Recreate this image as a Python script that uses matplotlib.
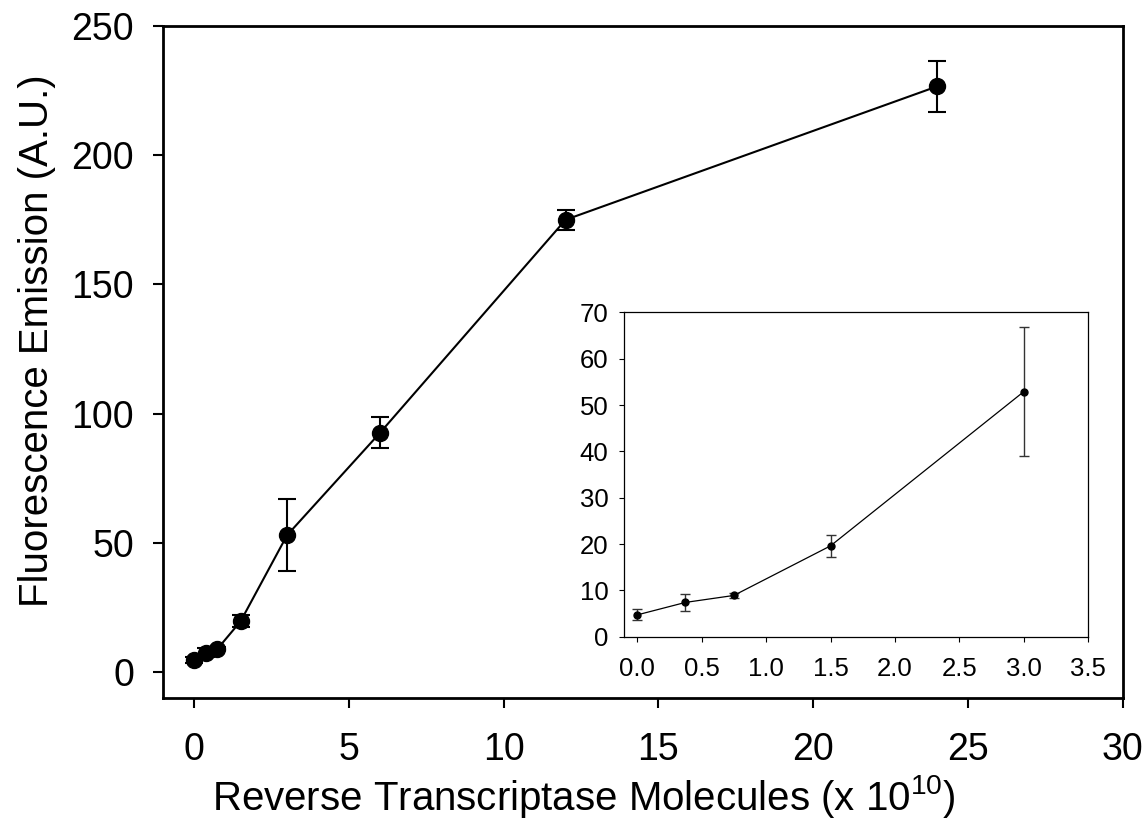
import matplotlib
matplotlib.use("Agg")
import matplotlib.pyplot as plt

plt.rcParams['font.family'] = ['Liberation Sans', 'DejaVu Sans']
plt.rcParams['mathtext.fontset'] = 'custom'
plt.rcParams['mathtext.rm'] = 'Liberation Sans'

# Data
molecules = [0, 0.375, 0.75, 1.5, 3, 6, 12, 24]
emission = [4.7, 7.4, 8.9, 19.6, 52.9, 92.5, 175.0, 226.6]
emission_err = [1.2, 1.8, 0.6, 2.4, 13.9, 6.0, 3.9, 9.7]

inset_n = 5
main_xticks = [0, 5, 10, 15, 20, 25, 30]
main_yticks = [0, 50, 100, 150, 200, 250]
inset_xticks = [0.0, 0.5, 1.0, 1.5, 2.0, 2.5, 3.0, 3.5]
inset_yticks = [0, 10, 20, 30, 40, 50, 60, 70]

fig = plt.figure(figsize=(11.45, 8.36), dpi=100)
ax = fig.add_axes([0.1426, 0.1654, 0.8379, 0.8035])
ax.errorbar(molecules, emission, yerr=emission_err, color='black', lw=1.5,
            marker='o', ms=11.5, mfc='black', mec='black',
            ecolor='black', elinewidth=1.5, capsize=6.8, capthick=1.5, zorder=3)
ax.set_xlim(-1, 30)
ax.set_ylim(-10, 250)
ax.set_xticks(main_xticks)
ax.set_yticks(main_yticks)
ax.tick_params(axis='both', direction='out', length=7, width=1.5, labelsize=27)
ax.tick_params(axis='x', pad=18)
ax.tick_params(axis='y', pad=14)
for s in ax.spines.values():
    s.set_linewidth(2)
ax.set_xlabel('Reverse Transcriptase Molecules (x 10$^{10}$)', fontsize=29, labelpad=3, x=0.4386)
ax.set_ylabel('Fluorescence Emission (A.U.)', fontsize=29, labelpad=11, y=0.531)

ins = fig.add_axes([0.5452, 0.2384, 0.4053, 0.3880])
ins.errorbar(molecules[:inset_n], emission[:inset_n], yerr=emission_err[:inset_n],
             color='black', lw=0.9, marker='o', ms=5, mfc='black', mec='black',
             ecolor='#333333', elinewidth=1.0, capsize=3.4, capthick=1.0, zorder=3)
ins.set_xlim(-0.1, 3.5)
ins.set_ylim(0, 70)
ins.set_xticks(inset_xticks)
ins.set_xticklabels([f'{v:.1f}' for v in inset_xticks])
ins.set_yticks(inset_yticks)
ins.tick_params(axis='both', direction='out', length=3.5, width=0.8, labelsize=18.5, pad=8)
ins.tick_params(axis='x', pad=11)
for s in ins.spines.values():
    s.set_linewidth(0.9)

fig.savefig('out.png', dpi=100)
